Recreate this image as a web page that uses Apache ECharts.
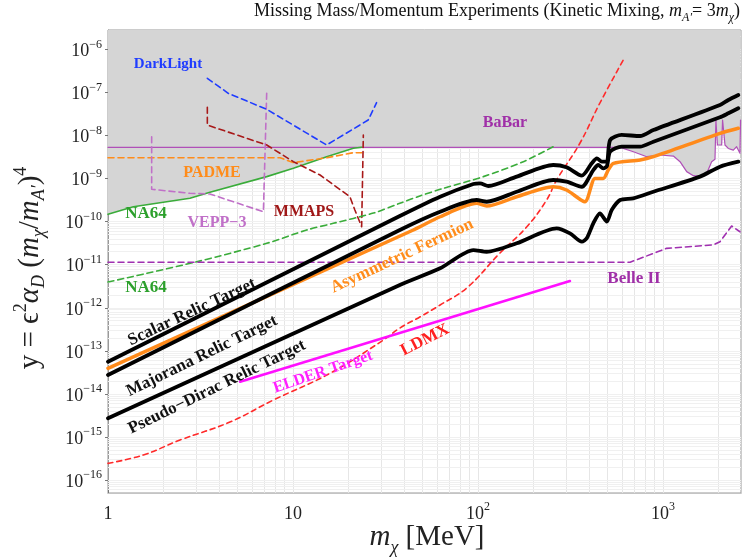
<!DOCTYPE html>
<html><head><meta charset="utf-8">
<script src="https://cdn.jsdelivr.net/npm/echarts@6/dist/echarts.min.js"></script>
<style>html,body{margin:0;padding:0;background:#fff}#c{width:748px;height:557px}</style>
</head><body><div id="c"></div>
<script>
// ---------- axis ranges / ticks ----------
const xRange = [1, 2640];            // m_chi [MeV]
const yRange = [5.0e-17, 2.82e-6];   // y
const xTickLabels = [1, 10, 100, 1000];
const yTickLabels = [1e-16,1e-15,1e-14,1e-13,1e-12,1e-11,1e-10,1e-9,1e-8,1e-7,1e-6];
const minorMultipliers = [1,2,3,4,5,6,7,8,9];

// ---------- curves (x in MeV, y) ----------
const na64SolidX = [1, 1.371, 2.773, 3.556, 7.211, 10.05, 15.2, 21.2, 23.5];
const na64SolidY = [1.48e-10, 2.22e-10, 3.48e-10, 4.80e-10, 1.11e-9, 1.73e-9, 3.22e-9, 5.05e-9, 5.32e-9];

const babarX = [1, 586, 692, 817, 964, 1138, 1236, 1343, 1459, 1618, 1722, 1832, 1910, 1932, 1968, 2075, 2099, 2163, 2254, 2399, 2500, 2606, 2625];
const babarY = [5.32e-9, 5.32e-9, 4.21e-9, 3.22e-9, 3.53e-9, 3.34e-9, 2.47e-9, 1.45e-9, 1.17e-9, 1.11e-9, 1.32e-9, 2.47e-9, 2.80e-9, 2.29e-8, 6.03e-9, 6.03e-9, 2.29e-8, 6.03e-9, 5.01e-9, 4.57e-9, 5.50e-9, 3.89e-9, 2.29e-8];

const padmeX = [1, 8.51, 10.05, 15.2, 21.2, 23.5];
const padmeY = [3.05e-9, 3.05e-9, 2.34e-9, 3.05e-9, 3.99e-9, 3.99e-9];

const vepp3X = [1.722, 1.722, 2.773, 3.556, 6.918, 7.211];
const vepp3Y = [9.40e-9, 5.64e-10, 4.55e-10, 4.39e-10, 1.70e-10, 1.04e-7];

const mmapsX = [3.443, 3.443, 7.211, 10.05, 14.0, 20.3, 21.6, 23.5, 24.0];
const mmapsY = [4.52e-8, 1.75e-8, 6.03e-9, 2.47e-9, 1.21e-9, 3.79e-10, 1.86e-10, 7.64e-11, 1.03e-8];

const darkLightX = [3.443, 4.467, 7.211, 15.2, 25.5, 28.3];
const darkLightY = [2.13e-7, 9.55e-8, 4.06e-8, 6.03e-9, 2.29e-8, 5.78e-8];

const na64DashX = [1, 3.013, 7.211, 11.86, 16.52, 27.2, 37.8, 48.5, 65.0, 106.9, 175.8, 255];
const na64DashY = [3.96e-12, 1.17e-11, 3.14e-11, 6.40e-11, 9.14e-11, 1.58e-10, 2.67e-10, 3.94e-10, 5.94e-10, 1.11e-9, 2.47e-9, 5.50e-9];

const belle2X = [1, 664, 1045, 1871, 2032, 2350, 2606];
const belle2Y = [1.14e-11, 1.14e-11, 2.40e-11, 2.88e-11, 3.42e-11, 7.93e-11, 5.83e-11];

const ldmxX = [1, 1.552, 2.449, 4.56, 7.834, 15.85, 30.8, 37.8, 48.5, 62.4, 86.9, 131.5, 183.2, 235, 266, 356, 456, 610];
const ldmxY = [2.44e-16, 3.81e-16, 8.49e-16, 2.22e-15, 7.21e-15, 3.01e-14, 1.78e-13, 3.39e-13, 6.11e-13, 1.16e-12, 2.88e-12, 1.87e-11, 7.50e-11, 3.18e-10, 9.27e-10, 6.70e-9, 5.69e-8, 5.68e-7];

const elderX = [5.176, 314];
const elderY = [1.92e-14, 4.18e-12];

const scalarX = [1, 37.8, 62.4, 94.4, 102.6, 113.8, 161.8, 255, 301, 364, 412, 439, 467, 497, 518, 598, 752, 887, 2032, 2254, 2553];
const scalarY = [5.58e-14, 1.35e-10, 3.79e-10, 7.48e-10, 7.76e-10, 6.73e-10, 1.11e-9, 2.07e-9, 1.83e-9, 1.17e-9, 2.26e-9, 2.96e-9, 2.47e-9, 2.47e-9, 7.87e-9, 1.03e-8, 9.75e-9, 1.34e-8, 5.12e-8, 6.68e-8, 8.73e-8];

const majoranaX = [1, 37.8, 62.4, 98.4, 111.4, 161.8, 255, 301, 364, 420, 447, 475, 498, 518, 598, 752, 887, 2032, 2254, 2553];
const majoranaY = [2.75e-14, 6.40e-11, 1.70e-10, 3.18e-10, 2.90e-10, 4.95e-10, 9.27e-10, 8.47e-10, 6.47e-10, 1.58e-9, 2.07e-9, 1.73e-9, 1.96e-9, 4.21e-9, 5.50e-9, 5.50e-9, 7.19e-9, 2.65e-8, 3.28e-8, 4.29e-8];

const asymX = [1, 44.7, 62.4, 98.4, 111.4, 161.8, 255, 301, 378, 429, 475, 506, 540, 752, 887, 2032, 2553];
const asymY = [3.93e-14, 6.40e-11, 1.30e-10, 2.66e-10, 2.31e-10, 3.79e-10, 6.47e-10, 5.43e-10, 2.90e-10, 1.01e-9, 1.01e-9, 1.58e-9, 2.26e-9, 2.70e-9, 3.22e-9, 1.12e-8, 1.47e-8];

const pseudoX = [1, 37.8, 62.4, 94.4, 111.4, 161.8, 266, 314, 364, 387, 420, 456, 497, 528, 586, 690, 887, 1585, 2032, 2553];
const pseudoY = [2.71e-15, 3.38e-12, 8.24e-12, 2.19e-11, 2.00e-11, 3.14e-11, 7.00e-11, 5.36e-11, 3.42e-11, 4.10e-11, 9.14e-11, 1.56e-10, 9.98e-11, 1.86e-10, 3.18e-10, 3.48e-10, 4.95e-10, 1.11e-9, 1.89e-9, 2.47e-9];

// ---------- helpers ----------
const L = Math.log10;
const pts = (xs, ys) => xs.map((x, i) => [L(x), L(ys[i])]);
const SERIF = '"Liberation Serif", "DejaVu Serif", serif';

// excluded (grey) region boundary: NA64 up to its junction, then BaBar
const junction = na64SolidX[na64SolidX.length - 1];
const excludedX = na64SolidX.concat(babarX.filter(x => x > junction));
const excludedY = na64SolidY.concat(babarY.filter((y, i) => babarX[i] > junction));

// log grid positions
const xGrid = [], yGrid = [], xTickPos = [];
for (let n = 0; n <= 3; n++) minorMultipliers.forEach(k => { const v = k * Math.pow(10, n); if (v > xRange[0] && v < xRange[1]) xGrid.push(L(v)); if (v >= xRange[0] && v < xRange[1]) xTickPos.push(L(v)); });
for (let n = -17; n <= -6; n++) minorMultipliers.forEach(k => { const v = k * Math.pow(10, n); if (v > yRange[0] && v < yRange[1]) yGrid.push(L(v)); });
const lx0 = L(xRange[0]), lx1 = L(xRange[1]), ly0 = L(yRange[0]), ly1 = L(yRange[1]);

function expLabel(v) {
  const e = Math.round(v);
  if (Math.abs(v - e) > 1e-6) return '';
  if (e === 0) return '{b|1}';
  if (e === 1) return '{b|10}';
  return '{b|10}{s|' + (e < 0 ? '\u2212' + (-e) : e) + '}';
}
const labelRich = {
  b: { fontSize: 18, lineHeight: 22, verticalAlign: 'bottom', fontFamily: SERIF, color: '#222' },
  s: { fontSize: 12, lineHeight: 12, verticalAlign: 'top', fontFamily: SERIF, color: '#222' }
};

function lineSeries(name, xs, ys, color, width, dash, z, smooth) {
  return {
    name, type: 'line', data: pts(xs, ys), showSymbol: false, symbol: 'none',
    smooth: smooth || false, z: z || 5, silent: true,
    lineStyle: { color, width, type: dash ? dash : 'solid', cap: 'round', join: 'round' }
  };
}

const chart = echarts.init(document.getElementById('c'), null, { renderer: 'canvas' });

const annotations = [
  ['DarkLight', 168, 64, 0, '#1f3cff', 15],
  ['BaBar', 505, 123, 0, '#a030a8', 16],
  ['PADME', 212, 173, 0, '#ff8c1a', 16],
  ['NA64', 146, 214, 0, '#2ca02c', 17],
  ['VEPP\u22123', 217, 223, 0, '#c070c8', 16],
  ['MMAPS', 304, 212, 0, '#a01818', 16],
  ['NA64', 146, 288, 0, '#2ca02c', 17],
  ['Belle II', 634, 279, 0, '#a030a8', 17],
  ['LDMX', 425, 340, 27, '#ff2020', 17],
  ['ELDER Target', 323, 372, 19, '#ff20ff', 16],
  ['Asymmetric Fermion', 402, 256, 25, '#ff8c1a', 17],
  ['Scalar Relic Target', 192, 312, 25, '#111111', 17],
  ['Majorana Relic Target', 202, 356, 26, '#111111', 17],
  ['Pseudo\u2212Dirac Relic Target', 217, 387, 26, '#111111', 17]
];

const graphics = annotations.map(a => ({
  type: 'text', x: a[1], y: a[2], rotation: a[3] * Math.PI / 180, z: 50,
  style: { text: a[0], fill: a[4], font: 'bold ' + a[5] + 'px ' + SERIF, align: 'center', verticalAlign: 'middle' }
}));

// title
graphics.push({
  type: 'text', x: 497, y: 13, z: 50,
  style: {
    text: '{n|Missing Mass/Momentum Experiments (Kinetic Mixing, }{i|m}{sub|A\u2032}{n|= 3}{i|m}{sub|\u03c7}{n|)}',
    align: 'center', verticalAlign: 'middle',
    rich: {
      n: { fontSize: 18, lineHeight: 22, fontFamily: SERIF, fill: '#111', verticalAlign: 'top' },
      i: { fontSize: 18, lineHeight: 22, fontFamily: SERIF, fontStyle: 'italic', fill: '#111', verticalAlign: 'top' },
      sub: { fontSize: 12, lineHeight: 12, fontFamily: SERIF, fontStyle: 'italic', fill: '#111', verticalAlign: 'bottom' }
    }
  }
});
// x axis name
graphics.push({
  type: 'text', x: 427, y: 540, z: 50,
  style: {
    text: '{i|m}{sub|\u03c7}{n| [MeV]}', align: 'center', verticalAlign: 'middle',
    rich: {
      n: { fontSize: 29, lineHeight: 34, fontFamily: SERIF, fill: '#222', verticalAlign: 'top' },
      i: { fontSize: 29, lineHeight: 34, fontFamily: SERIF, fontStyle: 'italic', fill: '#222', verticalAlign: 'top' },
      sub: { fontSize: 18, lineHeight: 18, fontFamily: SERIF, fontStyle: 'italic', fill: '#222', verticalAlign: 'bottom' }
    }
  }
});
// y axis name
graphics.push({
  type: 'text', x: 30, y: 268, rotation: Math.PI / 2, z: 50,
  style: {
    text: '{n|y = }{n|\u03f5}{sup|2}{i|\u03b1}{sub|D}{n| (}{i|m}{sub|\u03c7}{n|/}{i|m}{sub|A\u2032}{n|)}{sup|4}',
    align: 'center', verticalAlign: 'middle',
    rich: {
      n: { fontSize: 29, lineHeight: 36, fontFamily: SERIF, fill: '#222', verticalAlign: 'middle' },
      i: { fontSize: 29, lineHeight: 36, fontFamily: SERIF, fontStyle: 'italic', fill: '#222', verticalAlign: 'middle' },
      sup: { fontSize: 18, lineHeight: 18, fontFamily: SERIF, fill: '#222', verticalAlign: 'top' },
      sub: { fontSize: 18, lineHeight: 18, fontFamily: SERIF, fontStyle: 'italic', fill: '#222', verticalAlign: 'bottom' }
    }
  }
});

const option = {
  animation: false,
  backgroundColor: '#fff',
  grid: { left: 108, right: 7, top: 30, bottom: 64, show: true, borderColor: '#999', borderWidth: 1, containLabel: false },
  xAxis: {
    type: 'value', min: lx0, max: lx1,
    axisLine: { show: true, lineStyle: { color: '#999', width: 1 } },
    axisTick: { show: true, inside: true, length: 4, lineStyle: { color: '#777' }, customValues: xTickPos },
    axisLabel: { customValues: xTickLabels.map(L), formatter: expLabel, rich: labelRich, margin: 8, color: '#222' },
    splitLine: { show: false }
  },
  yAxis: {
    type: 'value', min: ly0, max: ly1,
    axisLine: { show: true, lineStyle: { color: '#999', width: 1 } },
    axisTick: { show: true, inside: false, length: 3, lineStyle: { color: '#777' }, customValues: yTickLabels.map(L) },
    axisLabel: { customValues: yTickLabels.map(L), formatter: expLabel, rich: labelRich, margin: 6, color: '#222' },
    splitLine: { show: false }
  },
  graphic: graphics,
  series: [
    {
      name: 'vgrid', type: 'lines', coordinateSystem: 'cartesian2d', z: 1, silent: true,
      lineStyle: { color: '#e6e6e6', width: 1, opacity: 1 },
      data: xGrid.map(v => ({ coords: [[v, ly0], [v, ly1]] }))
    },
    {
      name: 'hgrid', type: 'lines', coordinateSystem: 'cartesian2d', z: 1, silent: true,
      lineStyle: { color: '#f0f0f0', width: 1, opacity: 1 },
      data: yGrid.map(v => ({ coords: [[lx0, v], [lx1, v]] }))
    },
    {
      name: 'excluded', type: 'line', data: pts(excludedX, excludedY), showSymbol: false, symbol: 'none', z: 2, silent: true,
      lineStyle: { width: 0, opacity: 0 },
      areaStyle: { origin: 'end', color: '#d5d5d5', opacity: 1 }
    },
    lineSeries('BaBar', babarX, babarY, '#b050b8', 1.2, null, 6),
    lineSeries('NA64', na64SolidX, na64SolidY, '#3aac3a', 1.6, null, 6),
    lineSeries('PADME', padmeX, padmeY, '#ff8c1a', 1.6, [6, 4], 6),
    lineSeries('VEPP-3', vepp3X, vepp3Y, '#c070c8', 1.6, [6, 4], 6),
    lineSeries('MMAPS', mmapsX, mmapsY, '#a81818', 1.6, [6, 4], 6),
    lineSeries('DarkLight', darkLightX, darkLightY, '#1f3cff', 1.6, [6, 4], 6),
    lineSeries('NA64 proj', na64DashX, na64DashY, '#3aac3a', 1.6, [6, 4], 6, 0.3),
    lineSeries('Belle II', belle2X, belle2Y, '#a030b0', 1.6, [6, 4], 6),
    lineSeries('LDMX', ldmxX, ldmxY, '#ff2a2a', 1.6, [5, 4], 7, 0.4),
    lineSeries('ELDER', elderX, elderY, '#ff10ff', 2.6, null, 7),
    lineSeries('Asymmetric Fermion', asymX, asymY, '#ff8a1a', 3.5, null, 8, 0.25),
    lineSeries('Scalar', scalarX, scalarY, '#000', 3.8, null, 9, 0.25),
    lineSeries('Majorana', majoranaX, majoranaY, '#000', 3.8, null, 9, 0.25),
    lineSeries('Pseudo-Dirac', pseudoX, pseudoY, '#000', 3.8, null, 9, 0.25)
  ]
};
chart.setOption(option);
</script>
</body></html>
